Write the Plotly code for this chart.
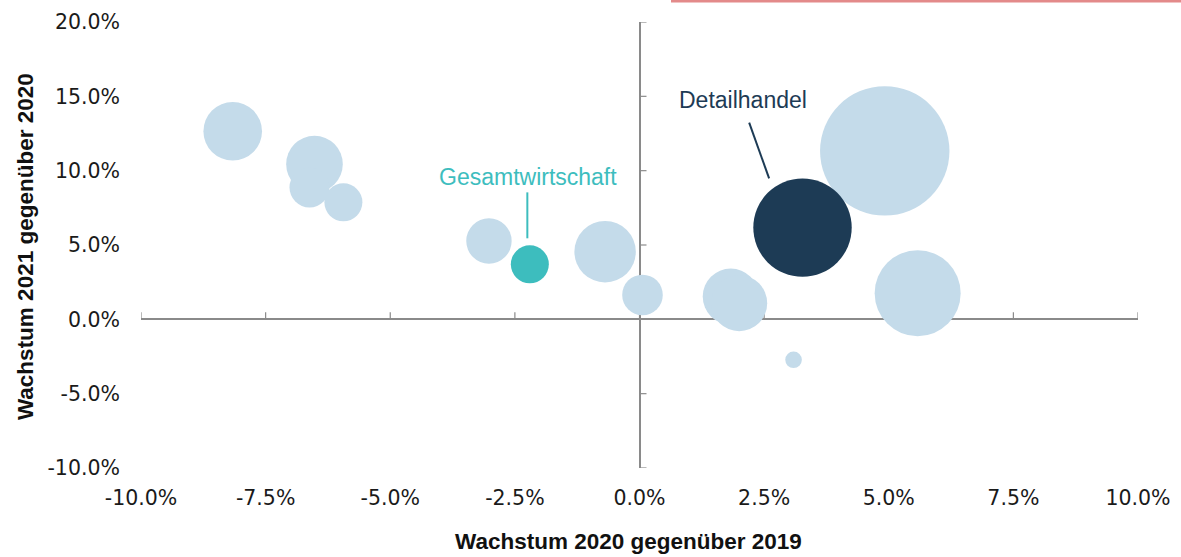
import plotly.graph_objects as go

# --- data (percent) ---
other_x = [-8.16, -6.52, -6.62, -5.94, -3.02, -0.69, 0.06, 1.83, 2.00, 4.92, 5.58, 3.09]
other_y = [12.65, 10.44, 8.87, 7.87, 5.27, 4.55, 1.64, 1.53, 1.09, 11.33, 1.76, -2.72]
other_size = [58.6, 56.6, 40, 38, 45.4, 61.4, 40.6, 56, 56, 129.4, 86, 16.6]

detail_x = [3.27]
detail_y = [6.17]
detail_size = [98.4]

gesamt_x = [-2.20]
gesamt_y = [3.70]
gesamt_size = [38]

x_ticks = [-10, -7.5, -5, -2.5, 0, 2.5, 5, 7.5, 10]
y_ticks = [-10, -5, 0, 5, 10, 15, 20]
x_ticktext = [f"{v:.1f}%" for v in x_ticks]
y_ticktext = [f"{v:.1f}%" for v in y_ticks]

# label positions (text, leader line start/end)
labels = [
    dict(text="Gesamtwirtschaft", x=-2.23, y=9.57, lx0=-2.25, ly0=8.54, lx1=-2.25, ly1=5.45, color="#3DBDBE"),
    dict(text="Detailhandel", x=2.08, y=14.78, lx0=2.20, ly0=13.23, lx1=2.60, ly1=9.48, color="#1D3B55"),
]

LIGHT = "#C4DBEA"
NAVY = "#1D3B55"
TEAL = "#3DBDBE"
AXIS = "#8A8A8A"
TXT = "#1A1A1A"

fig = go.Figure()
fig.add_trace(go.Scatter(x=other_x, y=other_y, mode="markers",
                         marker=dict(size=other_size, sizemode="diameter", color=LIGHT,
                                     opacity=1, line=dict(width=0)),
                         hoverinfo="x+y", showlegend=False))
fig.add_trace(go.Scatter(x=detail_x, y=detail_y, mode="markers",
                         marker=dict(size=detail_size, sizemode="diameter", color=NAVY,
                                     opacity=1, line=dict(width=0)),
                         showlegend=False))
fig.add_trace(go.Scatter(x=gesamt_x, y=gesamt_y, mode="markers",
                         marker=dict(size=gesamt_size, sizemode="diameter", color=TEAL,
                                     opacity=1, line=dict(width=0)),
                         showlegend=False))

shapes = []
# tick marks on the crossing axes
for xv in x_ticks:
    shapes.append(dict(type="line", xref="x", yref="y", xsizemode="scaled", ysizemode="pixel",
                       yanchor=0, x0=xv, x1=xv, y0=0, y1=7,
                       line=dict(color=AXIS, width=1.2), layer="below"))
for yv in y_ticks:
    shapes.append(dict(type="line", xref="x", yref="y", xsizemode="pixel", ysizemode="scaled",
                       xanchor=0, x0=0, x1=7, y0=yv, y1=yv,
                       line=dict(color=AXIS, width=1.2), layer="below"))
for lb in labels:
    shapes.append(dict(type="line", xref="x", yref="y", x0=lb["lx0"], y0=lb["ly0"],
                       x1=lb["lx1"], y1=lb["ly1"], line=dict(color=lb["color"], width=2)))
# red strip at top
shapes.append(dict(type="rect", xref="paper", yref="paper", x0=0.5316, x1=1.05,
                   y0=1.0435, y1=1.06, fillcolor="#E38A8A", line=dict(width=0)))

annotations = []
for lb in labels:
    annotations.append(dict(text=lb["text"], x=lb["x"], y=lb["y"], xref="x", yref="y",
                            showarrow=False, font=dict(family="Liberation Sans", size=23, color=lb["color"]),
                            xanchor="center", yanchor="middle"))
annotations.append(dict(text="<b>Wachstum 2020 gegenüber 2019</b>", xref="paper", yref="paper",
                        x=0.4885, y=-0.1637, showarrow=False, xanchor="center", yanchor="middle",
                        font=dict(family="Liberation Sans", size=22.5, color="#111111")))
annotations.append(dict(text="<b>Wachstum 2021 gegenüber 2020</b>", xref="paper", yref="paper",
                        x=-0.1163, y=0.4955, showarrow=False, xanchor="center", yanchor="middle",
                        textangle=-90,
                        font=dict(family="Liberation Sans", size=22.5, color="#111111")))

fig.update_layout(
    width=1181, height=557,
    margin=dict(l=141, r=43, t=22, b=89, autoexpand=False),
    plot_bgcolor="white", paper_bgcolor="white",
    shapes=shapes, annotations=annotations,
    showlegend=False,
    font=dict(family="DejaVu Sans", size=20.5, color=TXT),
)
fig.update_xaxes(range=[-10, 10], tickvals=x_ticks, ticktext=x_ticktext, showgrid=False,
                 zeroline=True, zerolinecolor=AXIS, zerolinewidth=1.5, showline=False,
                 automargin=False,
                 ticks="", ticklabelstandoff=15, tickfont=dict(family="DejaVu Sans", size=20.5, color=TXT))
fig.update_yaxes(range=[-10, 20], tickvals=y_ticks, ticktext=y_ticktext, showgrid=False,
                 zeroline=True, zerolinecolor=AXIS, zerolinewidth=1.5, showline=False,
                 automargin=False,
                 ticks="", ticklabelstandoff=20, tickfont=dict(family="DejaVu Sans", size=20.5, color=TXT))

fig.write_html("out.html", config={"displayModeBar": False},
               post_script="document.body.style.margin='0';document.body.style.overflow='hidden';")
